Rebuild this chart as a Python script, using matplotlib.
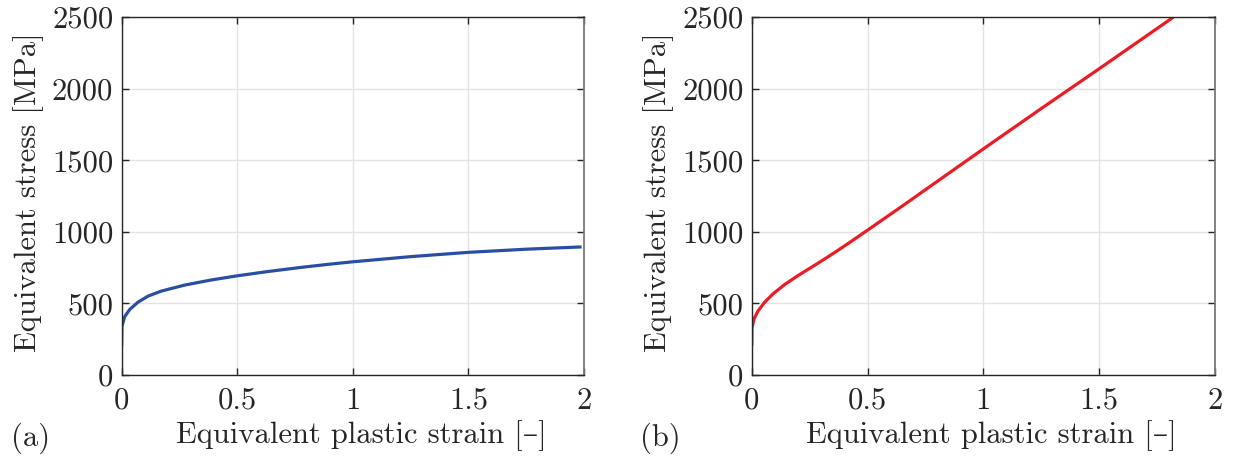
import matplotlib
matplotlib.use("Agg")
import matplotlib.pyplot as plt

# courbes contrainte equivalente / deformation plastique equivalente
strain_a = [0.0, 0.001, 0.013, 0.035, 0.071, 0.114, 0.171, 0.272, 0.388, 0.5, 0.633,
            0.777, 0.892, 1.0, 1.25, 1.5, 1.75, 1.99]
stress_a = [203, 338, 407, 458, 509, 551, 586, 628, 664, 693, 723,
            752, 773, 791, 827, 857, 879, 895]

strain_b = [0.0, 0.001, 0.010, 0.027, 0.056, 0.092, 0.143, 0.200, 0.272, 0.32, 0.359,
            0.43, 0.5, 0.66, 0.75, 1.0, 1.25, 1.5, 1.82]
stress_b = [205, 330, 393, 447, 509, 567, 633, 695, 767, 816, 857,
            934, 1012, 1192, 1295, 1580, 1862, 2140, 2500]

xticks = [0, 0.5, 1, 1.5, 2]
xticklabels = ["0", "0.5", "1", "1.5", "2"]
yticks = [0, 500, 1000, 1500, 2000, 2500]
yticklabels = ["0", "500", "1000", "1500", "2000", "2500"]

plt.rcParams['font.family'] = ['cmr10', 'DejaVu Serif']
plt.rcParams['mathtext.fontset'] = 'cm'
plt.rcParams['axes.unicode_minus'] = False

fig = plt.figure(figsize=(12.35, 4.61), dpi=100)
ax1 = fig.add_axes([0.0985, 0.1866, 0.3743, 0.776])
ax2 = fig.add_axes([0.6087, 0.1866, 0.3751, 0.776])

fs = 22
axcol = "#262626"

def style(ax):
    ax.set_xlim(0, 2)
    ax.set_ylim(0, 2500)
    ax.set_xticks(xticks)
    ax.set_xticklabels(xticklabels)
    ax.set_yticks(yticks)
    ax.set_yticklabels(yticklabels)
    ax.grid(True, color="#e3e3e3", linewidth=1.0)
    ax.set_axisbelow(True)
    ax.tick_params(direction="in", length=5, width=1.0, top=True, right=True,
                   labelsize=fs, colors=axcol, labelcolor=axcol)
    ax.tick_params(axis="x", pad=9)
    ax.tick_params(axis="y", pad=6)
    for s in ["left", "bottom", "top"]:
        ax.spines[s].set_color(axcol)
        ax.spines[s].set_linewidth(1.0)
    ax.spines["right"].set_color("#7a7a7a")
    ax.spines["right"].set_linewidth(1.3)
    ax.set_xlabel("Equivalent plastic strain [–]", fontsize=fs, color=axcol, labelpad=4)
    ax.set_ylabel("Equivalent stress [MPa]", fontsize=fs, color=axcol, labelpad=6)
    ax.xaxis.label.set_x(0.518)
    ax.yaxis.label.set_y(0.51)

ax1.plot(strain_a, stress_a, color="#2a4ea6", linewidth=2.3, solid_capstyle="butt")
ax2.plot(strain_b, stress_b, color="#ec1c24", linewidth=2.3, solid_capstyle="butt")
style(ax1)
style(ax2)

fig.text(0.025, 0.05, "(a)", fontsize=fs, color=axcol, ha="center", va="center")
fig.text(0.5345, 0.05, "(b)", fontsize=fs, color=axcol, ha="center", va="center")

fig.savefig("out.png", dpi=100)
